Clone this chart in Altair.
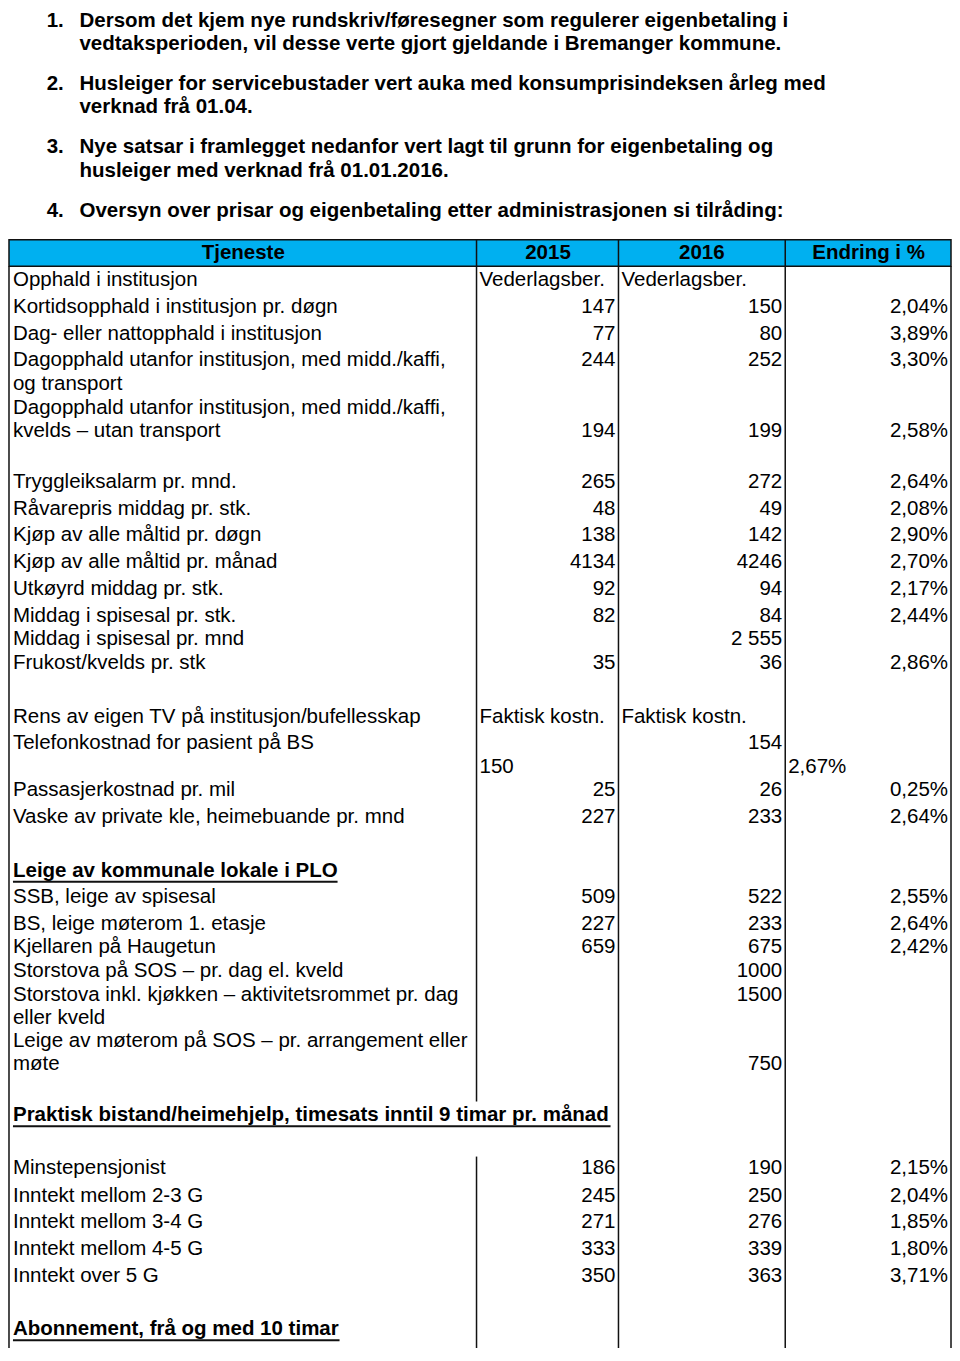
import altair as alt
import pandas as pd

# ---------------- content ----------------
intro_numbers = ["1.", "2.", "3.", "4."]
intro_lines = [
    "Dersom det kjem nye rundskriv/føresegner som regulerer eigenbetaling i",
    "vedtaksperioden, vil desse verte gjort gjeldande i Bremanger kommune.",
    "Husleiger for servicebustader vert auka med konsumprisindeksen årleg med",
    "verknad frå 01.04.",
    "Nye satsar i framlegget nedanfor vert lagt til grunn for eigenbetaling og",
    "husleiger med verknad frå 01.01.2016.",
    "Oversyn over prisar og eigenbetaling etter administrasjonen si tilråding:",
]
headers = ["Tjeneste", "2015", "2016", "Endring i %"]

tjeneste = [
    "Opphald i institusjon",
    "Kortidsopphald i institusjon pr. døgn",
    "Dag- eller nattopphald i institusjon",
    "Dagopphald utanfor institusjon, med midd./kaffi,",
    "og transport",
    "Dagopphald utanfor institusjon, med midd./kaffi,",
    "kvelds – utan transport",
    "Tryggleiksalarm pr. mnd.",
    "Råvarepris middag pr. stk.",
    "Kjøp av alle måltid pr. døgn",
    "Kjøp av alle måltid pr. månad",
    "Utkøyrd middag pr. stk.",
    "Middag i spisesal pr. stk.",
    "Middag i spisesal pr. mnd",
    "Frukost/kvelds pr. stk",
    "Rens av eigen TV på institusjon/bufellesskap",
    "Telefonkostnad for pasient på BS",
    "",
    "Passasjerkostnad pr. mil",
    "Vaske av private kle, heimebuande pr. mnd",
    "Leige av kommunale lokale i PLO",
    "SSB, leige av spisesal",
    "BS, leige møterom 1. etasje",
    "Kjellaren på Haugetun",
    "Storstova på SOS – pr. dag el. kveld",
    "Storstova inkl. kjøkken – aktivitetsrommet pr. dag",
    "eller kveld",
    "Leige av møterom på SOS – pr. arrangement eller",
    "møte",
    "Praktisk bistand/heimehjelp, timesats inntil 9 timar pr. månad",
    "Minstepensjonist",
    "Inntekt mellom 2-3 G",
    "Inntekt mellom 3-4 G",
    "Inntekt mellom 4-5 G",
    "Inntekt over 5 G",
    "Abonnement, frå og med 10 timar",
]
pris_2015 = ["Vederlagsber.", "147", "77", "244", "", "", "194",
             "265", "48", "138", "4134", "92", "82", "", "35",
             "Faktisk kostn.", "", "150", "25", "227",
             "", "509", "227", "659", "", "", "", "", "",
             "", "186", "245", "271", "333", "350", ""]
pris_2016 = ["Vederlagsber.", "150", "80", "252", "", "", "199",
             "272", "49", "142", "4246", "94", "84", "2 555", "36",
             "Faktisk kostn.", "154", "", "26", "233",
             "", "522", "233", "675", "1000", "1500", "", "", "750",
             "", "190", "250", "276", "339", "363", ""]
endring = ["", "2,04%", "3,89%", "3,30%", "", "", "2,58%",
           "2,64%", "2,08%", "2,90%", "2,70%", "2,17%", "2,44%", "", "2,86%",
           "", "", "2,67%", "0,25%", "2,64%",
           "", "2,55%", "2,64%", "2,42%", "", "", "", "", "",
           "", "2,15%", "2,04%", "1,85%", "1,80%", "3,71%", ""]

heading_rows = [20, 29, 35]          # bold, underlined section titles
left_aligned_rows = [0, 15, 17]      # cells written from the left edge of the column

# ---------------- layout (reference pixel space) ----------------
intro_y = [9, 33, 73, 97, 138, 162, 203]
intro_num_rows = [0, 2, 4, 6]
row_y = [273, 301, 328, 355, 379, 403, 427, 479, 506, 533, 560, 588, 615, 639,
         663, 718, 745, 769, 793, 820, 875, 902, 929, 953, 977, 1001, 1025,
         1048, 1072, 1124, 1178, 1206, 1233, 1260, 1288, 1342]
underline_end = [335, 610, 337]
header_cx = [240, 547, 702, 870]
col_left = [8, 478, 621, 789]
col_right = [None, 615, 783, 950]
grid_x = [4, 475, 618, 786, 953]
head_top, head_bot, page_bot = 232, 259, 1361

FONT = "Liberation Sans"
FS = 20.5

recs = []
for i, t in enumerate(intro_lines):
    recs.append(dict(text=t, x=75, y=intro_y[i], kind="bold_left"))
for n, r in zip(intro_numbers, intro_num_rows):
    recs.append(dict(text=n, x=42, y=intro_y[r], kind="bold_left"))
for h, cx in zip(headers, header_cx):
    recs.append(dict(text=h, x=cx, y=(head_top + head_bot) / 2, kind="bold_center"))
for i, lab in enumerate(tjeneste):
    y = row_y[i]
    if lab:
        recs.append(dict(text=lab, x=col_left[0], y=y,
                         kind="bold_left" if i in heading_rows else "left"))
    for c, vals in ((1, pris_2015), (2, pris_2016), (3, endring)):
        v = vals[i]
        if not v:
            continue
        if i in left_aligned_rows:
            recs.append(dict(text=v, x=col_left[c], y=y, kind="left"))
        else:
            recs.append(dict(text=v, x=col_right[c], y=y, kind="right"))
cells = pd.DataFrame(recs)

rules = []
for gx in grid_x:
    if gx == 475:
        rules.append(dict(x=gx, x2=gx, y=head_bot, y2=1110, w=1.5))
        rules.append(dict(x=gx, x2=gx, y=1166, y2=page_bot, w=1.5))
    else:
        rules.append(dict(x=gx, x2=gx, y=head_bot, y2=page_bot, w=1.5))
for gx in grid_x[1:-1]:
    rules.append(dict(x=gx, x2=gx, y=head_top, y2=head_bot, w=1.5))
for r, xe in zip(heading_rows, underline_end):
    rules.append(dict(x=col_left[0], x2=xe, y=row_y[r] + 11, y2=row_y[r] + 11, w=2))
rules_df = pd.DataFrame(rules)

band = pd.DataFrame([dict(x=grid_x[0], x2=grid_x[-1], y=head_top, y2=head_bot)])

xs = alt.Scale(domain=[3, 954], nice=False, zero=False)
ys = alt.Scale(domain=[-4, 1361], nice=False, zero=False, reverse=True)

X = lambda f: alt.X(f, type="quantitative", scale=xs, axis=None)
Y = lambda f: alt.Y(f, type="quantitative", scale=ys, axis=None)

band_layer = alt.Chart(band).mark_rect(
    fill="#00B0F0", stroke="#111111", strokeWidth=1.5
).encode(x=X("x"), x2="x2", y=Y("y"), y2="y2")

rule_layer = alt.Chart(rules_df).mark_rule(color="#111111").encode(
    x=X("x"), x2="x2", y=Y("y"), y2="y2",
    strokeWidth=alt.StrokeWidth("w:Q", scale=None),
)


def text_layer(kind, align, weight):
    return alt.Chart(cells).transform_filter(
        alt.datum.kind == kind
    ).mark_text(
        align=align, baseline="middle", font=FONT, fontSize=FS,
        fontWeight=weight, color="#000000",
    ).encode(x=X("x"), y=Y("y"), text="text:N")


chart = alt.layer(
    band_layer,
    rule_layer,
    text_layer("bold_left", "left", "bold"),
    text_layer("bold_center", "center", "bold"),
    text_layer("left", "left", "normal"),
    text_layer("right", "right", "normal"),
).properties(
    width=944, height=1340, padding=0,
).configure_view(stroke=None)

chart.save("out.html", embed_options={"renderer": "svg", "actions": False})
